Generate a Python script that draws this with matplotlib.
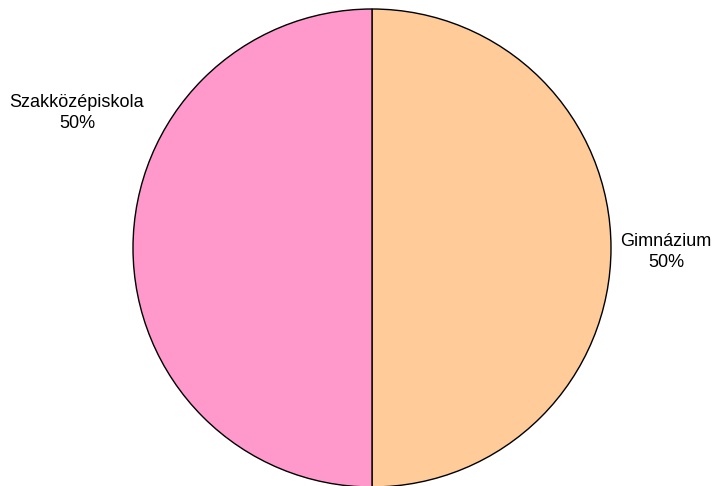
import matplotlib.pyplot as plt

# adatok
labels = ['Gimnázium', 'Szakközépiskola']
values = [50, 50]
colors = ['#FFCC99', '#FF99CC']

plt.rcParams['font.family'] = ['Liberation Sans', 'DejaVu Sans']

fig = plt.figure(figsize=(7.13, 4.86), dpi=100)
ax = fig.add_axes([0, 0, 1, 1])

total = sum(values)
ax.pie(values, colors=colors, startangle=90, counterclock=False,
       center=(372, 238), radius=239,
       wedgeprops=dict(edgecolor='black', linewidth=1))

# címkék
pos = [(666, 234), (77, 373)]
for (x, y), lab, v in zip(pos, labels, values):
    ax.text(x, y, f'{lab}\n{v / total:.0%}', ha='center', va='center',
            fontsize=13, linespacing=1.3)

ax.set_xlim(0, 713)
ax.set_ylim(0, 486)
ax.set_aspect('equal')
ax.axis('off')

plt.savefig('out.png', dpi=100)
